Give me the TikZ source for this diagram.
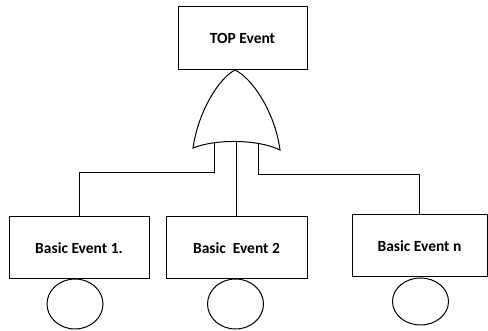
\documentclass[tikz,border=0pt]{standalone}
\usepackage{fontspec}
\setmainfont{Carlito}
\usetikzlibrary{shapes.geometric}
\begin{document}
\begin{tikzpicture}[x=1pt,y=-1pt,line width=1pt,
  eventbox/.style={draw,rectangle,inner sep=0pt,font=\bfseries\fontsize{15.5}{17}\selectfont},
  basicmark/.style={draw,ellipse,minimum width=56pt,minimum height=50pt,inner sep=0pt},
  wire/.style={draw,line width=1pt}]
\useasboundingbox (0,0) rectangle (488,331);
% top event
\node[eventbox,minimum width=129pt,minimum height=63pt] (top) at (242.5,38) {TOP Event};
% OR gate
\coordinate (apex) at (235,70);
\coordinate (gl) at (193,148);
\coordinate (gr) at (280,150);
\draw[fill=white] (apex) .. controls (219,78) and (198,112) .. (gl)
  .. controls (215,139) and (258,139) .. (gr)
  .. controls (275,112) and (252,78) .. (apex) -- cycle;
\draw (top.south) -- (apex);
% basic events
\node[eventbox,minimum width=140pt,minimum height=62pt] (b1) at (79,248) {Basic Event 1.};
\node[eventbox,minimum width=141pt,minimum height=62pt] (b2) at (236.5,248) {Basic\ \ Event 2};
\node[eventbox,minimum width=135pt,minimum height=62pt] (b3) at (419.5,246) {Basic Event n};
\node[basicmark] (c1) at (75,304) {};
\node[basicmark] (c2) at (235.5,304) {};
\node[basicmark,minimum height=47pt] (c3) at (420.5,301.5) {};
% gate outputs to the basic events
\coordinate (o1) at (214,143.5);
\coordinate (o2) at (236.5,142);
\coordinate (o3) at (258,143.5);
\draw[wire] (o1) -- (214,173) -| (b1.north);
\draw[wire] (o2) -- (b2.north);
\draw[wire] (o3) -- (258,175) -| (b3.north);
\end{tikzpicture}
\end{document}
